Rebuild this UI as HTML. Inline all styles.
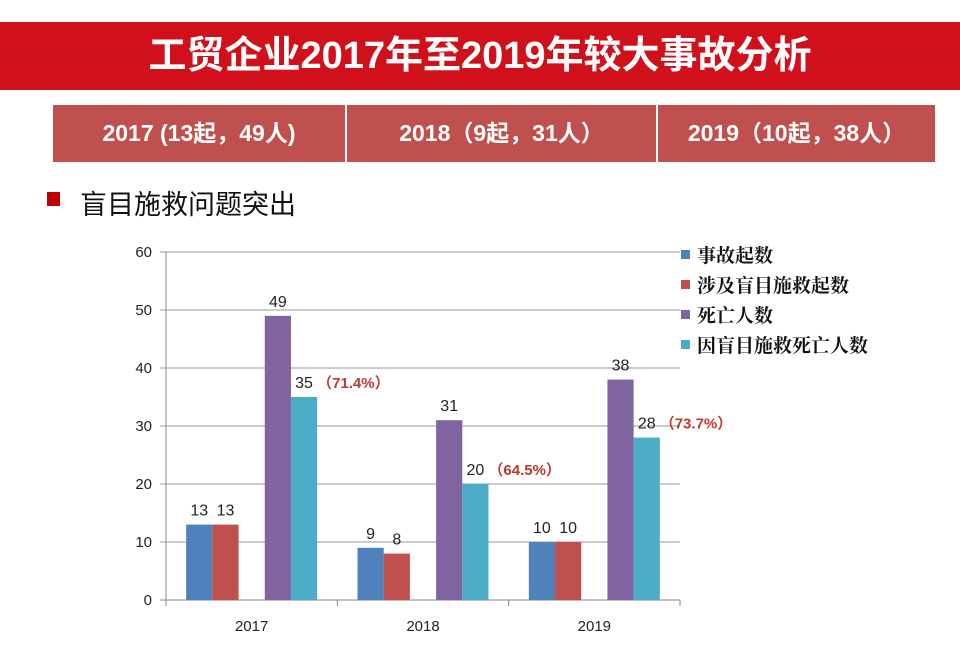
<!DOCTYPE html>
<html><head><meta charset="utf-8"><style>
body{margin:0;width:960px;height:661px;background:#fff;overflow:hidden;position:relative;font-family:"Liberation Sans","Noto Sans CJK SC",sans-serif}
.band{position:absolute;left:0;top:22px;width:960px;height:68px;background:#d0111b;color:#fff;font-weight:bold;font-size:38px;text-align:center;line-height:68px}
.sub{position:absolute;top:105px;height:57px;background:#c0504d;color:#fff;font-weight:bold;font-size:23px;text-align:center;line-height:57px}
.bul{position:absolute;left:47px;top:192px;width:13px;height:14px;background:#c00000}
.bt{position:absolute;left:80px;top:183px;font-size:27px;color:#111;font-family:"Liberation Sans","Noto Sans CJK SC",sans-serif}
</style></head><body>
<div class="band">工贸企业2017年至2019年较大事故分析</div>
<div class="sub" style="left:53px;width:292px">2017 (13起，49人)</div>
<div class="sub" style="left:347px;width:309px">2018（9起，31人）</div>
<div class="sub" style="left:658px;width:277px">2019（10起，38人）</div>
<div class="bul"></div>
<div class="bt">盲目施救问题突出</div>
<svg id="chart" width="960" height="661" style="position:absolute;left:0;top:0"></svg>
<script>
const categories=["2017","2018","2019"];
const seriesNames=["事故起数","涉及盲目施救起数","死亡人数","因盲目施救死亡人数"];
const accidents=[13,9,10];
const blindRescueAccidents=[13,8,10];
const deaths=[49,31,38];
const blindRescueDeaths=[35,20,28];
const pctLabels=["（71.4%）","（64.5%）","（73.7%）"];
const yTicks=[0,10,20,30,40,50,60];
const colors=["#4f81bd","#c0504d","#8064a2","#4bacc6"];
const NS="http://www.w3.org/2000/svg";
const svg=document.getElementById('chart');
const L=166,R=680,T=252,B=600,yMax=60;
const y=v=>B-(v/yMax)*(B-T);
const cw=(R-L)/categories.length,bw=26.2;
const slotX=(ci,s)=>L+ci*cw+(cw-5*bw)/2+[0,1,3,4][s]*bw;
function mk(tag,a,txt){const e=document.createElementNS(NS,tag);for(const k in a)e.setAttribute(k,a[k]);if(txt!=null)e.textContent=txt;svg.appendChild(e);return e;}
yTicks.forEach(t=>{
 const g=mk('line',{x1:L-6,x2:R,y1:y(t),y2:y(t),stroke:t===0?'#888':'#999','stroke-width':1});
 
 
 const tx=mk('text',{x:L-14,y:y(t)+5,'text-anchor':'end','font-size':15,fill:'#222'},t);
 
 
});
const ax=mk('line',{x1:L,x2:L,y1:T,y2:B+5,stroke:'#888'});


for(let i=0;i<=categories.length;i++){const tk=mk('line',{x1:L+i*cw,x2:L+i*cw,y1:B,y2:B+6,stroke:'#888'});
 
 }
const series=[accidents,blindRescueAccidents,deaths,blindRescueDeaths];
categories.forEach((c,ci)=>{
 const cl=mk('text',{x:L+ci*cw+cw/2,y:B+31,'text-anchor':'middle','font-size':15,fill:'#222'},c);
 
 
 series.forEach((arr,s)=>{
  const x=slotX(ci,s),v=arr[ci];
  const r=mk('rect',{x:x,y:y(v),width:bw,height:B-y(v),fill:colors[s]});
  
  
  const lb=mk('text',{x:x+bw/2,y:y(v)-9,'text-anchor':'middle','font-size':16,fill:'#222'},v);
  
  
 });
 const x=slotX(ci,3)+bw/2+13,v=blindRescueDeaths[ci];
 const p=mk('text',{x:x,y:y(v)-9,'font-size':15,'font-weight':'bold',fill:'#c0392b'},pctLabels[ci]);
 
 
});
seriesNames.forEach((n,i)=>{
 const sq=mk('rect',{x:681,y:250+i*30,width:9,height:9,fill:colors[i]});
 
 
 const t=mk('text',{x:697,y:262+i*30,'font-size':19,fill:'#111','font-family':'"Liberation Serif","Noto Serif CJK SC",serif','font-weight':'bold'},n);
 
 
});
</script>
</body></html>
